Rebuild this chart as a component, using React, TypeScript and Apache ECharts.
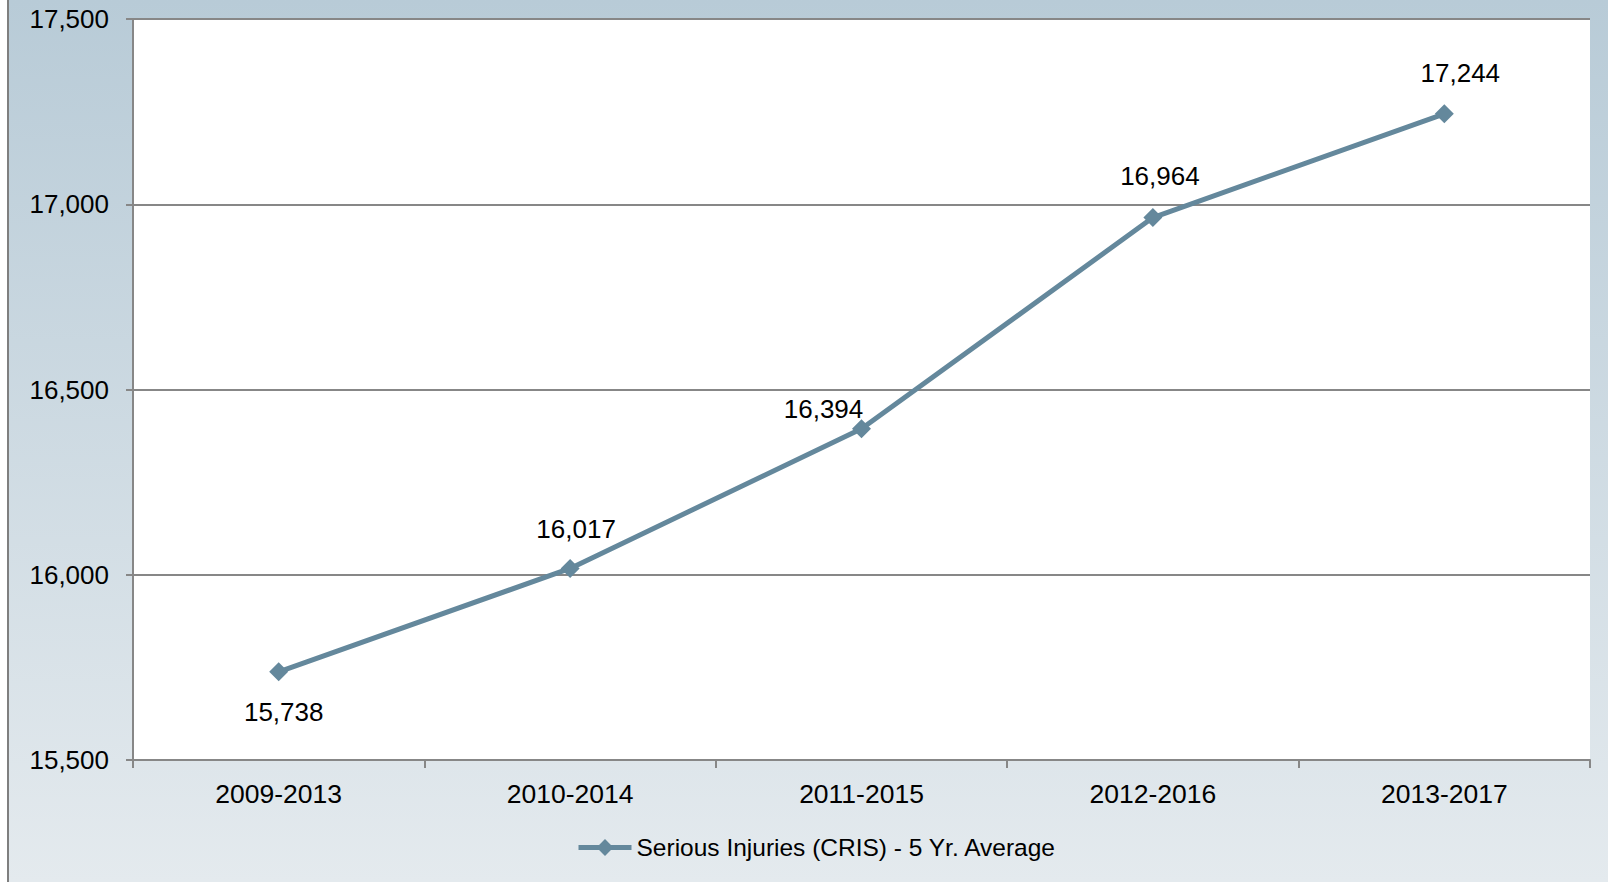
import React, { useEffect, useRef } from "react";
import * as echarts from "echarts";

const categories = ["2009-2013", "2010-2014", "2011-2015", "2012-2016", "2013-2017"];
const values = [15738, 16017, 16394, 16964, 17244];
const labelOffsets: [number, number][] = [[5, 40], [6, -39], [-38, -20], [7, -42], [16, -41]];
const seriesName = "Serious Injuries (CRIS) - 5 Yr. Average";
const yMin = 15500;
const yMax = 17500;
const yInterval = 500;

const fmt = (v: number) => v.toLocaleString("en-US");

export default function App() {
  const ref = useRef<HTMLDivElement>(null);
  useEffect(() => {
    if (!ref.current) return;
    const chart = echarts.init(ref.current, null, { renderer: "svg" });
    const font = "'Liberation Sans', Arial, sans-serif";
    const lineColor = "#64889c";
    const gray = "#878787";
    chart.setOption({
      animation: false,
      backgroundColor: "transparent",
      textStyle: { fontFamily: font },
      grid: {
        left: 124,
        right: 18,
        top: 19,
        bottom: 122,
        show: true,
        backgroundColor: "#ffffff",
        borderWidth: 0,
      },
      legend: {
        left: 562,
        top: 830,
        itemWidth: 53,
        itemHeight: 21,
        itemGap: 5,
        lineStyle: { width: 5, color: lineColor },
        itemStyle: { color: lineColor },
        textStyle: { fontSize: 24.5, color: "#000", fontFamily: font },
        data: [seriesName],
      },
      xAxis: {
        type: "category",
        data: categories,
        boundaryGap: true,
        axisLine: { show: true, lineStyle: { color: gray, width: 2 } },
        axisTick: { show: true, length: 8, lineStyle: { color: gray, width: 2 } },
        axisLabel: { fontSize: 26.5, color: "#000", margin: 20, fontFamily: font },
        splitLine: { show: false },
      },
      yAxis: {
        type: "value",
        min: yMin,
        max: yMax,
        interval: yInterval,
        axisLine: { show: true, lineStyle: { color: gray, width: 2 } },
        axisTick: { show: true, length: 7, lineStyle: { color: gray, width: 2 } },
        axisLabel: {
          fontSize: 26,
          color: "#000",
          margin: 24,
          fontFamily: font,
          formatter: (v: number) => fmt(v),
        },
        splitLine: { show: true, lineStyle: { color: gray, width: 2 } },
      },
      series: [
        {
          name: seriesName,
          type: "line",
          symbol: "diamond",
          symbolSize: 19,
          lineStyle: { color: lineColor, width: 5 },
          itemStyle: { color: lineColor },
          data: values.map((v, i) => ({
            value: v,
            label: {
              show: true,
              position: "inside",
              offset: labelOffsets[i],
              fontSize: 26,
              color: "#000",
              fontFamily: font,
              formatter: (p: any) => fmt(p.value),
            },
          })),
        },
      ],
    });
    return () => chart.dispose();
  }, []);

  return (
    <div
      style={{
        position: "fixed",
        left: 0,
        top: 0,
        width: 1608,
        height: 882,
        background: "#ffffff",
        overflow: "hidden",
      }}
    >
      <div
        style={{
          position: "absolute",
          left: 7,
          top: 0,
          width: 2,
          height: 882,
          background: "#7f7f7f",
        }}
      />
      <div
        style={{
          position: "absolute",
          left: 9,
          top: 0,
          width: 1599,
          height: 882,
          background: "linear-gradient(to bottom, #b8cbd7 0%, #e4eaee 100%)",
        }}
      >
        <div ref={ref} style={{ width: 1599, height: 882 }} />
      </div>
    </div>
  );
}
